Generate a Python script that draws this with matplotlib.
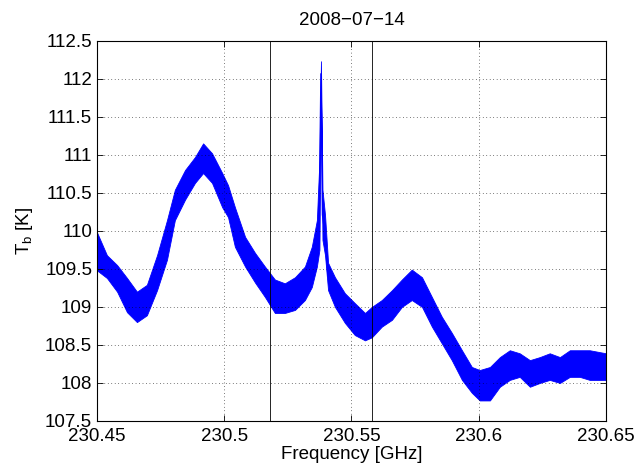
import matplotlib
matplotlib.use("Agg")
import matplotlib.pyplot as plt
import numpy as np

plt.rcParams['font.family'] = ['Liberation Sans', 'DejaVu Sans']
plt.rcParams['font.size'] = 13.5

# spectrum: frequency [GHz] with lower / upper edge of the noisy trace [K]
freq = [230.4500, 230.4539, 230.4579, 230.4618, 230.4657, 230.4696, 230.4736,
        230.4775, 230.4806, 230.4846, 230.4885, 230.4917, 230.4952, 230.4992,
        230.5015, 230.5042, 230.5082, 230.5121, 230.5160, 230.5199, 230.5238,
        230.5278, 230.5317, 230.5344, 230.5364, 230.5374, 230.5380, 230.5386,
        230.5396, 230.5408, 230.5435, 230.5474, 230.5513, 230.5553, 230.5580,
        230.5619, 230.5659, 230.5698, 230.5737, 230.5777, 230.5816, 230.5855,
        230.5894, 230.5934, 230.5973, 230.6004, 230.6044, 230.6083, 230.6122,
        230.6161, 230.6201, 230.6240, 230.6279, 230.6319, 230.6358, 230.6397,
        230.6436, 230.6500]
tb_hi = [109.98, 109.68, 109.55, 109.38, 109.20, 109.29, 109.68,
         110.14, 110.54, 110.80, 110.97, 111.15, 111.02, 110.76,
         110.60, 110.31, 109.92, 109.71, 109.53, 109.36, 109.31,
         109.39, 109.53, 109.79, 110.14, 110.93, 112.23, 110.54,
         110.21, 109.58, 109.39, 109.18, 109.05, 108.92, 109.00,
         109.09, 109.22, 109.36, 109.49, 109.39, 109.13, 108.87,
         108.66, 108.43, 108.21, 108.17, 108.21, 108.34, 108.43,
         108.39, 108.30, 108.34, 108.39, 108.34, 108.43, 108.43,
         108.43, 108.39]
tb_lo = [109.48, 109.38, 109.20, 108.93, 108.80, 108.89, 109.22,
         109.62, 110.14, 110.41, 110.63, 110.76, 110.63, 110.31,
         110.18, 109.79, 109.53, 109.32, 109.13, 108.92, 108.92,
         108.96, 109.09, 109.26, 109.53, 109.75, 111.90, 109.88,
         109.68, 109.22, 109.00, 108.79, 108.63, 108.56, 108.60,
         108.74, 108.83, 109.00, 109.09, 109.00, 108.74, 108.52,
         108.30, 108.04, 107.87, 107.77, 107.77, 107.95, 108.04,
         108.08, 107.95, 108.00, 108.04, 108.00, 108.08, 108.08,
         108.04, 108.04]

# integration window limits
window = [230.5178, 230.5579]

fig = plt.figure(figsize=(6.36, 4.71), dpi=100)
ax = fig.add_axes([0.1525, 0.1062, 0.8003, 0.8074])

lo = np.array(tb_lo)
hi = np.array(tb_hi)
ax.fill_between(freq, lo, hi, color='#0000ff', lw=0.6, edgecolor='#0000ff')
ax.plot(freq, (lo + hi) / 2, color='#0000ff', lw=1.0)

for f in window:
    ax.axvline(f, color='k', lw=0.6)

ax.set_xlim(230.45, 230.65)
ax.set_ylim(107.5, 112.5)
ax.set_xticks(np.arange(230.45, 230.651, 0.05))
ax.set_xticklabels(['230.45', '230.5', '230.55', '230.6', '230.65'])
ax.set_yticks(np.arange(107.5, 112.51, 0.5))
ax.set_yticklabels(['%g' % v for v in np.arange(107.5, 112.51, 0.5)])

ax.grid(True, color='k', linestyle=(0, (1, 4)), lw=0.5)
ax.tick_params(direction='in', top=True, right=True, length=4, width=0.6,
               labelsize=13.5)
ax.tick_params(axis='y', pad=3.5)
ax.tick_params(axis='x', pad=5)
for s in ax.spines.values():
    s.set_linewidth(0.8)

ax.set_title('2008\u221207\u221214', fontsize=13.5, pad=11)
ax.set_xlabel('Frequency [GHz]', fontsize=13.5, labelpad=1)
ax.set_ylabel(r'T$_\mathregular{b}$ [K]', fontsize=13.5, labelpad=7)

fig.savefig('out.png', dpi=100)
